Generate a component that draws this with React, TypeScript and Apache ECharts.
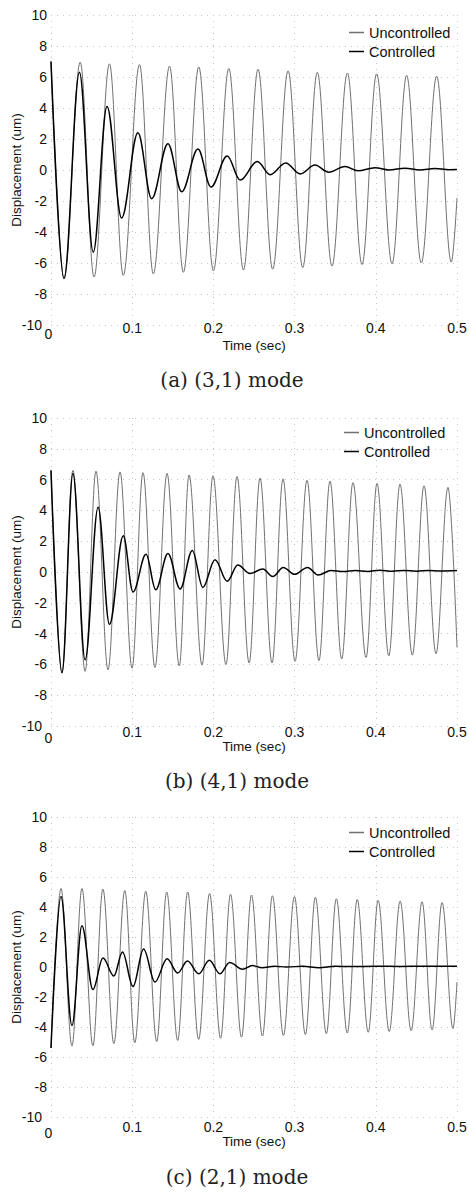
import React, { useEffect, useRef } from 'react';
import * as echarts from 'echarts';

type Pt = [number, number];

// ---- data (time in sec, displacement in um): extrema of each oscillation ----
const seriesNames = ['Uncontrolled', 'Controlled'];
const xAxisTitle = 'Time (sec)';
const yAxisTitle = 'Displacement (um)';
const captions = ['(a) (3,1) mode', '(b) (4,1) mode', '(c) (2,1) mode'];
const xTicks = [0, 0.1, 0.2, 0.3, 0.4, 0.5];
const yTicks = [-10, -8, -6, -4, -2, 0, 2, 4, 6, 8, 10];

// (a) (3,1) mode
const uncontrolledA: Pt[] = [
  [0, 7.0], [0.016, -7.0], [0.036, 6.95], [0.053, -6.9], [0.072, 6.85], [0.089, -6.8],
  [0.109, 6.8], [0.126, -6.7], [0.146, 6.7], [0.163, -6.6], [0.182, 6.65], [0.2, -6.5],
  [0.219, 6.55], [0.237, -6.45], [0.255, 6.5], [0.273, -6.4], [0.292, 6.4], [0.31, -6.3],
  [0.328, 6.3], [0.346, -6.2], [0.365, 6.25], [0.383, -6.1], [0.401, 6.2], [0.42, -6.05],
  [0.438, 6.1], [0.456, -6.0], [0.475, 6.05], [0.493, -5.95], [0.5, -1.8],
];
const controlledA: Pt[] = [
  [0, 7.0], [0.016, -7.0], [0.035, 6.3], [0.052, -5.3], [0.069, 4.1], [0.087, -3.1],
  [0.107, 2.4], [0.124, -1.85], [0.144, 1.7], [0.161, -1.4], [0.181, 1.35], [0.197, -1.1],
  [0.217, 0.9], [0.233, -0.65], [0.254, 0.55], [0.27, -0.3], [0.289, 0.45], [0.307, -0.25],
  [0.325, 0.32], [0.342, -0.15], [0.362, 0.22], [0.378, -0.05], [0.399, 0.15], [0.416, 0.0],
  [0.436, 0.12], [0.454, 0.0], [0.473, 0.1], [0.49, 0.02], [0.5, 0.03],
];

// (b) (4,1) mode
const uncontrolledB: Pt[] = [
  [0, 6.6], [0.0135, -6.55], [0.027, 6.6], [0.042, -6.45], [0.0554, 6.55], [0.0702, -6.35],
  [0.085, 6.5], [0.0998, -6.25], [0.1133, 6.45], [0.128, -6.2], [0.1429, 6.4], [0.158, -6.1],
  [0.17, 6.3], [0.186, -6.05], [0.1995, 6.25], [0.2155, -6.0], [0.2291, 6.2], [0.244, -5.9],
  [0.2574, 6.1], [0.2722, -5.9], [0.2857, 6.05], [0.3005, -5.8], [0.3153, 5.95], [0.33, -5.75],
  [0.3436, 5.9], [0.358, -5.65], [0.3719, 5.8], [0.388, -5.55], [0.4015, 5.75], [0.416, -5.45],
  [0.4298, 5.7], [0.445, -5.4], [0.4594, 5.6], [0.4741, -5.3], [0.4889, 5.5], [0.5, -4.9],
];
const controlledB: Pt[] = [
  [0, 6.6], [0.0135, -6.55], [0.027, 6.4], [0.042, -5.7], [0.058, 4.2], [0.072, -3.4],
  [0.089, 2.35], [0.101, -1.3], [0.117, 1.15], [0.129, -1.15], [0.144, 1.2], [0.159, -1.1],
  [0.174, 1.4], [0.187, -1.0], [0.202, 0.8], [0.217, -0.6], [0.23, 0.45], [0.245, -0.1],
  [0.261, 0.2], [0.273, -0.3], [0.286, 0.3], [0.3, -0.15], [0.316, 0.3], [0.329, -0.2],
  [0.345, 0.1], [0.36, 0.03], [0.375, 0.1], [0.39, 0.04], [0.405, 0.12], [0.42, 0.05],
  [0.435, 0.1], [0.45, 0.05], [0.465, 0.1], [0.48, 0.07], [0.5, 0.1],
];

// (c) (2,1) mode
const uncontrolledC: Pt[] = [
  [0, -5.4], [0.0123, 5.23], [0.0258, -5.27], [0.0381, 5.23], [0.0516, -5.25], [0.0639, 5.2],
  [0.0774, -5.1], [0.0909, 5.1], [0.1032, -5.05], [0.1167, 5.05], [0.1302, -4.97], [0.1425, 5.0],
  [0.156, -4.9], [0.1683, 5.0], [0.1818, -4.83], [0.1953, 4.9], [0.2088, -4.75], [0.2211, 4.85],
  [0.2346, -4.68], [0.2469, 4.8], [0.2604, -4.6], [0.2727, 4.75], [0.2862, -4.57], [0.2998, 4.7],
  [0.3133, -4.5], [0.3256, 4.65], [0.3391, -4.45], [0.3514, 4.55], [0.3649, -4.4], [0.3771, 4.5],
  [0.3907, -4.35], [0.4029, 4.45], [0.4165, -4.3], [0.43, 4.4], [0.4435, -4.25], [0.457, 4.35],
  [0.4693, -4.2], [0.4816, 4.3], [0.4951, -4.1], [0.5, -1.0],
];
const controlledC: Pt[] = [
  [0, -5.4], [0.0123, 4.7], [0.0258, -3.9], [0.0381, 2.75], [0.0516, -1.5], [0.064, 0.6],
  [0.0774, -0.6], [0.088, 1.0], [0.101, -1.3], [0.114, 1.2], [0.128, -1.0], [0.143, 0.55],
  [0.156, -0.4], [0.168, 0.4], [0.182, -0.45], [0.195, 0.45], [0.208, -0.45], [0.22, 0.3],
  [0.236, -0.15], [0.248, 0.1], [0.26, -0.05], [0.275, 0.05], [0.29, 0.0], [0.31, 0.05],
  [0.33, -0.05], [0.35, 0.05], [0.37, 0.03], [0.4, 0.05], [0.43, 0.04], [0.46, 0.05], [0.5, 0.05],
];

const panelData: Pt[][][] = [
  [uncontrolledA, controlledA],
  [uncontrolledB, controlledB],
  [uncontrolledC, controlledC],
];

// ---- layout (pixels) ----
const layout = [
  { top: 15, height: 310, labelMargin: -4, nameGap: 13, legendTop: 25, legendLeft: 349, capX: 232, capY: 380 },
  { top: 418, height: 308, labelMargin: -1, nameGap: 13, legendTop: 425, legendLeft: 344, capX: 237, capY: 781 },
  { top: 817, height: 300, labelMargin: 3, nameGap: 17, legendTop: 825, legendLeft: 349, capX: 237, capY: 1177 },
];

const SANS = '"Liberation Sans", Arial, sans-serif';
const SERIF = '"DejaVu Serif", serif';
const lineColors = ['#707070', '#000000'];
const lineWidths = [1, 1.5];

export default function App() {
  const ref = useRef<HTMLDivElement>(null);

  useEffect(() => {
    document.body.style.margin = '0';
    if (!ref.current) return;
    const chart = echarts.init(ref.current, null, { renderer: 'svg' });

    const grids: any[] = [];
    const xAxes: any[] = [];
    const yAxes: any[] = [];
    const series: any[] = [];
    const legends: any[] = [];
    const graphics: any[] = [];

    layout.forEach((p, i) => {
      grids.push({
        left: 51,
        width: 406,
        top: p.top,
        height: p.height,
        containLabel: false,
        outerBoundsMode: 'none',
      });
      xAxes.push({
        type: 'value',
        gridIndex: i,
        min: xTicks[0],
        max: xTicks[xTicks.length - 1],
        interval: 0.1,
        name: xAxisTitle,
        nameLocation: 'middle',
        nameGap: p.nameGap,
        nameMoveOverlap: false,
        nameTextStyle: { fontFamily: SANS, fontSize: 13.5, color: '#111' },
        axisLine: { show: false },
        axisTick: { show: false },
        axisLabel: {
          margin: p.labelMargin,
          fontFamily: SANS,
          fontSize: 14,
          color: '#111',
          formatter: (v: number) => (v === 0 ? '{z|0}' : v.toFixed(1)),
          rich: { z: { fontFamily: SANS, fontSize: 14, color: '#111', padding: [6, 5, 0, 0] } },
        },
        splitLine: { show: true, lineStyle: { color: '#c4c4c4', width: 1, type: [1, 5] } },
      });
      yAxes.push({
        type: 'value',
        gridIndex: i,
        min: yTicks[0],
        max: yTicks[yTicks.length - 1],
        interval: 2,
        name: yAxisTitle,
        nameLocation: 'middle',
        nameGap: 28,
        nameMoveOverlap: false,
        nameTextStyle: { fontFamily: SANS, fontSize: 13.5, color: '#111' },
        axisLine: { show: false },
        axisTick: { show: false },
        axisLabel: {
          margin: 4,
          fontFamily: SANS,
          fontSize: 14,
          color: '#111',
          formatter: (v: number) => (v === -10 ? '{m|-10}' : String(v)),
          rich: { m: { fontFamily: SANS, fontSize: 14, color: '#111', padding: [0, 5, 0, 0] } },
        },
        splitLine: { show: true, lineStyle: { color: '#c4c4c4', width: 1, type: [1, 5] } },
      });
      panelData[i].forEach((data, k) => {
        series.push({
          type: 'line',
          name: seriesNames[k],
          xAxisIndex: i,
          yAxisIndex: i,
          data,
          smooth: 0.36,
          smoothMonotone: 'x',
          symbol: 'none',
          clip: true,
          color: lineColors[k],
          lineStyle: { color: lineColors[k], width: lineWidths[k] },
          z: 2 + k,
        });
      });
      legends.push({
        data: seriesNames.map((n) => ({ name: n, icon: 'rect' })),
        orient: 'vertical',
        left: p.legendLeft,
        top: p.legendTop,
        padding: 0,
        itemWidth: 15,
        itemHeight: 1.5,
        itemGap: 4,
        textStyle: { fontFamily: SANS, fontSize: 14.5, color: '#111' },
        selectedMode: false,
      });
      graphics.push({
        type: 'text',
        x: p.capX,
        y: p.capY,
        style: {
          text: captions[i],
          fontFamily: SERIF,
          fontSize: 20,
          fill: '#222',
          align: 'center',
          verticalAlign: 'middle',
          textAlign: 'center',
          textVerticalAlign: 'middle',
        },
      });
    });

    chart.setOption({
      animation: false,
      backgroundColor: '#ffffff',
      grid: grids,
      xAxis: xAxes,
      yAxis: yAxes,
      legend: legends,
      series,
      graphic: graphics,
    });

    return () => chart.dispose();
  }, []);

  return <div ref={ref} style={{ width: 469, height: 1194 }} />;
}
